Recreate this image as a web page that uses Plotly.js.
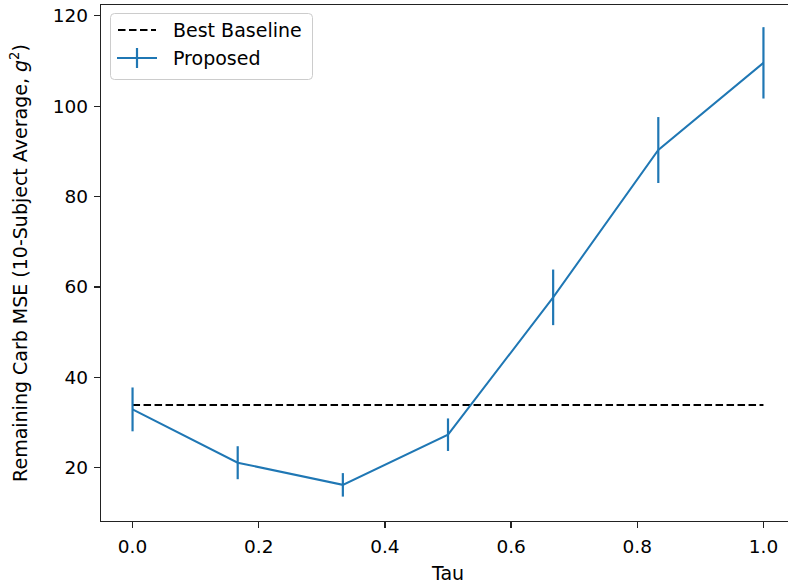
<!DOCTYPE html>
<html>
<head>
<meta charset="utf-8">
<script src="https://cdn.plot.ly/plotly-3.0.1.min.js"></script>
<style>
  html, body { margin: 0; padding: 0; overflow: hidden; background: #fff; }
  #chart { width: 800px; height: 584px; }
</style>
</head>
<body>
<div id="chart"></div>
<script>
// Tau sweep (7 evenly spaced settings from 0 to 1)
const tau = [0, 1/6, 2/6, 3/6, 4/6, 5/6, 1];
// Remaining carb MSE of the proposed method, averaged over 10 subjects
const proposedMse = [32.9, 21.1, 16.2, 27.3, 57.7, 90.3, 109.6];
// Spread of the 10-subject average (half-length of each error bar)
const proposedErr = [4.85, 3.65, 2.6, 3.6, 6.15, 7.3, 7.9];
// Best baseline reference level
const baselineMse = 33.9;
const baselineTau = [0, 1];

const xTicks = [0, 0.2, 0.4, 0.6, 0.8, 1.0];
const xTickText = ['0.0', '0.2', '0.4', '0.6', '0.8', '1.0'];
const yTicks = [20, 40, 60, 80, 100, 120];

const legendNames = ['Best Baseline', 'Proposed'];

const BLUE = '#1f77b4';
const FAMILY = 'DejaVu Sans, sans-serif';
const tickFont = { family: FAMILY, size: 18.5, color: '#000' };
const labelFont = { family: FAMILY, size: 19, color: '#000' };
const legendFont = { family: FAMILY, size: 19, color: '#000' };

// Plot-area geometry in pixels, used to place the hand-built legend
const W = 800, H = 584;
const M = { l: 101, r: 5, t: 5, b: 63 };
const PW = W - M.l - M.r, PH = H - M.t - M.b;
const px = v => (v - M.l) / PW;          // pixel x -> paper x
const py = v => (H - M.b - v) / PH;      // pixel y -> paper y

const BASE_DASH = '7.5px,3.5px';

const traces = [
  {
    x: baselineTau,
    y: baselineTau.map(() => baselineMse),
    mode: 'lines',
    name: legendNames[0],
    line: { color: '#000000', width: 2, dash: BASE_DASH },
    hoverinfo: 'skip'
  },
  {
    x: tau,
    y: proposedMse,
    mode: 'lines',
    name: legendNames[1],
    line: { color: BLUE, width: 2 },
    error_y: {
      type: 'data',
      array: proposedErr,
      visible: true,
      color: BLUE,
      thickness: 2.2,
      width: 0
    }
  }
];

// Legend frame with rounded corners
function roundedRect(x0, y0, x1, y1, r) {
  const X0 = px(x0), X1 = px(x1), Y0 = py(y0), Y1 = py(y1);
  const rx = r / PW, ry = r / PH;
  return `M ${X0 + rx} ${Y0} L ${X1 - rx} ${Y0} Q ${X1} ${Y0} ${X1} ${Y0 - ry} ` +
         `L ${X1} ${Y1 + ry} Q ${X1} ${Y1} ${X1 - rx} ${Y1} ` +
         `L ${X0 + rx} ${Y1} Q ${X0} ${Y1} ${X0} ${Y1 + ry} ` +
         `L ${X0} ${Y0 - ry} Q ${X0} ${Y0} ${X0 + rx} ${Y0} Z`;
}

const shapes = [
  {
    type: 'path', xref: 'paper', yref: 'paper',
    path: roundedRect(110.5, 13.5, 312.5, 79.5, 4),
    line: { color: '#cccccc', width: 1 },
    fillcolor: 'rgba(255,255,255,0.8)', layer: 'above'
  },
  {
    type: 'line', xref: 'paper', yref: 'paper',
    x0: px(118), x1: px(156), y0: py(30), y1: py(30),
    line: { color: '#000000', width: 2, dash: BASE_DASH }, layer: 'above'
  },
  {
    type: 'line', xref: 'paper', yref: 'paper',
    x0: px(117), x1: px(157), y0: py(58), y1: py(58),
    line: { color: BLUE, width: 2 }, layer: 'above'
  },
  {
    type: 'line', xref: 'paper', yref: 'paper',
    x0: px(137), x1: px(137), y0: py(48), y1: py(68),
    line: { color: BLUE, width: 2.2 }, layer: 'above'
  }
];

const annotations = [
  {
    xref: 'paper', yref: 'paper', x: px(171), y: py(30),
    xanchor: 'left', yanchor: 'middle', showarrow: false,
    text: legendNames[0], font: legendFont
  },
  {
    xref: 'paper', yref: 'paper', x: px(171), y: py(58),
    xanchor: 'left', yanchor: 'middle', showarrow: false,
    text: legendNames[1], font: legendFont
  }
];

const layout = {
  width: W,
  height: H,
  paper_bgcolor: '#ffffff',
  plot_bgcolor: '#ffffff',
  font: tickFont,
  margin: { l: M.l, r: M.r, t: M.t, b: M.b, pad: 0 },
  showlegend: false,
  shapes: shapes,
  annotations: annotations,
  xaxis: {
    range: [-0.05, 1.05],
    tickvals: xTicks,
    ticktext: xTickText,
    ticks: 'outside', ticklen: 6, tickwidth: 1.2, tickcolor: '#222',
    ticklabelstandoff: 2,
    showline: true, linecolor: '#222', linewidth: 1.3, mirror: true,
    showgrid: false, zeroline: false,
    tickfont: tickFont,
    title: { text: 'Tau', font: labelFont, standoff: 11 }
  },
  yaxis: {
    range: [8.2, 122.4],
    tickvals: yTicks,
    ticks: 'outside', ticklen: 6, tickwidth: 1.2, tickcolor: '#222',
    ticklabelstandoff: 2,
    showline: true, linecolor: '#222', linewidth: 1.3, mirror: true,
    showgrid: false, zeroline: false,
    tickfont: tickFont,
    title: { text: 'Remaining Carb MSE (10-Subject Average, <i>g</i><sup>2</sup>)', font: labelFont, standoff: 20 }
  }
};

Plotly.newPlot('chart', traces, layout, { displayModeBar: false, staticPlot: true });
</script>
</body>
</html>
